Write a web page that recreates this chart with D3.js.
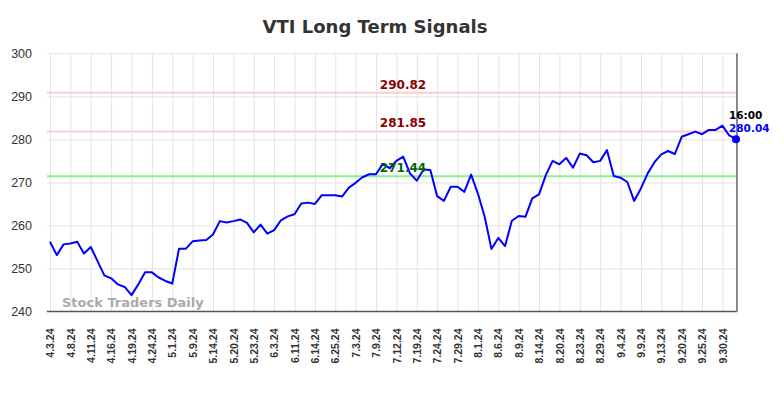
<!DOCTYPE html>
<html>
<head>
<meta charset="utf-8">
<script src="https://cdn.jsdelivr.net/npm/d3@7"></script>
<style>
  body { margin: 0; background: #fff; }
  svg { display: block; font-family: "DejaVu Sans", sans-serif; }
</style>
</head>
<body>
<div id="chart"></div>
<script>
// closing prices, one per plotted session
const prices = [
    256.2, 253.1, 255.6, 255.8, 256.2, 253.5, 255.0, 251.7, 248.4, 247.7,
    246.3, 245.7, 243.8, 246.3, 249.1, 249.1, 247.9, 247.1, 246.5, 254.6,
    254.6, 256.3, 256.5, 256.6, 257.9, 261.0, 260.7, 261.0, 261.4, 260.6,
    258.4, 260.2, 258.1, 258.9, 261.2, 262.1, 262.6, 265.1, 265.3, 265.0,
    267.0, 267.0, 267.0, 266.7, 268.8, 269.9, 271.2, 271.9, 271.9, 274.3,
    273.3, 275.0, 276.0, 272.1, 270.4, 273.0, 272.9, 266.8, 265.7, 269.0,
    269.0, 267.8, 271.8, 267.4, 262.0, 254.5, 257.1, 255.2, 261.1, 262.2,
    262.0, 266.3, 267.2, 271.7, 275.0, 274.2, 275.7, 273.4, 276.7, 276.3,
    274.7, 275.0, 277.5, 271.5, 271.1, 270.1, 265.7, 268.6, 272.1, 274.7,
    276.5, 277.3, 276.6, 280.6, 281.2, 281.8, 281.2, 282.2, 282.2, 283.2,
    280.9, 280.04
];

// a date label sits on every third session
const tickLabels = ['4.3.24', '4.8.24', '4.11.24', '4.16.24', '4.19.24', '4.24.24', '5.1.24', '5.9.24',
    '5.14.24', '5.20.24', '5.23.24', '6.3.24', '6.11.24', '6.14.24', '6.25.24', '7.3.24', '7.9.24',
    '7.12.24', '7.19.24', '7.24.24', '7.29.24', '8.1.24', '8.6.24', '8.9.24', '8.14.24', '8.20.24',
    '8.23.24', '8.29.24', '9.4.24', '9.9.24', '9.13.24', '9.20.24', '9.25.24', '9.30.24'];
const tickEvery = 3;

const resistance = [290.82, 281.85];
const support = [271.44];
const yTicks = [240, 250, 260, 270, 280, 290, 300];
const lastTime = '16:00';

const width = 784, height = 398;
const plot = { left: 47, right: 737, top: 53.3, bottom: 311.5 };

const svg = d3.select("#chart").append("svg")
    .attr("width", width)
    .attr("height", height);

const x = d3.scalePoint()
    .domain(d3.range(prices.length))
    .range([50, 736]);

const y = d3.scaleLinear()
    .domain([240, 300])
    .range([plot.bottom, plot.top]);

// title
svg.append("text")
    .attr("x", 375)
    .attr("y", 33)
    .attr("text-anchor", "middle")
    .style("font-size", "18px")
    .style("font-weight", "bold")
    .style("fill", "#333")
    .text("VTI Long Term Signals");

// y axis + horizontal grid
const yAxis = svg.append("g")
    .attr("transform", `translate(${plot.left},0)`)
    .call(d3.axisLeft(y).tickValues(yTicks).tickSize(-(plot.right - plot.left)).tickPadding(15));
yAxis.select(".domain").remove();
yAxis.selectAll("line").attr("stroke", "#e3e3e3").attr("stroke-width", 1);
yAxis.selectAll("text").style("font-size", "12.5px").style("fill", "#333");
yAxis.selectAll(".tick").filter(d => d === 240).select("line").remove();

// x axis + vertical grid
const xTickIdx = tickLabels.map((d, i) => i * tickEvery);
const xAxis = svg.append("g")
    .attr("transform", `translate(0,${plot.bottom})`)
    .call(d3.axisBottom(x).tickValues(xTickIdx)
        .tickFormat(d => tickLabels[d / tickEvery])
        .tickSize(-(plot.bottom - plot.top)));
xAxis.select(".domain").remove();
xAxis.selectAll("line").attr("stroke", "#e3e3e3").attr("stroke-width", 1);
xAxis.selectAll("text")
    .attr("transform", "rotate(-90)")
    .attr("x", -17)
    .attr("y", 0)
    .attr("dy", "0.35em")
    .style("text-anchor", "end")
    .style("font-size", "10.5px")
    .style("font-weight", "bold")
    .style("fill", "#333");

// baseline
svg.append("line")
    .attr("x1", plot.left).attr("x2", plot.right)
    .attr("y1", plot.bottom).attr("y2", plot.bottom)
    .attr("stroke", "#555")
    .attr("stroke-width", 1.5);

// signal levels
svg.selectAll(".res")
    .data(resistance)
    .enter().append("line")
    .attr("x1", plot.left).attr("x2", plot.right)
    .attr("y1", d => y(d)).attr("y2", d => y(d))
    .attr("stroke", "#ffcccc")
    .attr("stroke-width", 2);

svg.selectAll(".sup")
    .data(support)
    .enter().append("line")
    .attr("x1", plot.left).attr("x2", plot.right)
    .attr("y1", d => y(d)).attr("y2", d => y(d))
    .attr("stroke", "#90ee90")
    .attr("stroke-width", 2);

// watermark
svg.append("text")
    .attr("x", 62)
    .attr("y", 307)
    .style("font-size", "13px")
    .style("font-weight", "bold")
    .style("fill", "#aaa")
    .text("Stock Traders Daily");

// price line
const line = d3.line()
    .x((d, i) => x(i))
    .y(d => y(d));

svg.append("path")
    .datum(prices)
    .attr("fill", "none")
    .attr("stroke", "#0000ff")
    .attr("stroke-width", 2)
    .attr("stroke-linejoin", "round")
    .attr("d", line);

// level labels drawn over the line
svg.selectAll(".resLabel")
    .data(resistance)
    .enter().append("text")
    .attr("x", 403)
    .attr("y", d => y(d) - 4)
    .attr("text-anchor", "middle")
    .style("font-size", "12px")
    .style("font-weight", "bold")
    .style("fill", "#8b0000")
    .text(d => d.toFixed(2));

svg.selectAll(".supLabel")
    .data(support)
    .enter().append("text")
    .attr("x", 403)
    .attr("y", d => y(d) - 4)
    .attr("text-anchor", "middle")
    .style("font-size", "12px")
    .style("font-weight", "bold")
    .style("fill", "#006400")
    .text(d => d.toFixed(2));

// right edge marker
svg.append("line")
    .attr("x1", plot.right).attr("x2", plot.right)
    .attr("y1", plot.top).attr("y2", plot.bottom)
    .attr("stroke", "#888")
    .attr("stroke-width", 2);

// last point
const lastI = prices.length - 1;
const last = prices[lastI];
svg.append("circle")
    .attr("cx", x(lastI))
    .attr("cy", y(last))
    .attr("r", 4)
    .attr("fill", "#0000ff");

svg.append("text")
    .attr("x", x(lastI) - 7)
    .attr("y", y(last) - 20)
    .style("font-size", "10.5px")
    .style("font-weight", "bold")
    .style("fill", "#000")
    .text(lastTime);

svg.append("text")
    .attr("x", x(lastI) - 7)
    .attr("y", y(last) - 7)
    .style("font-size", "10.5px")
    .style("font-weight", "bold")
    .style("fill", "#0000ff")
    .text(last.toFixed(2));
</script>
</body>
</html>
